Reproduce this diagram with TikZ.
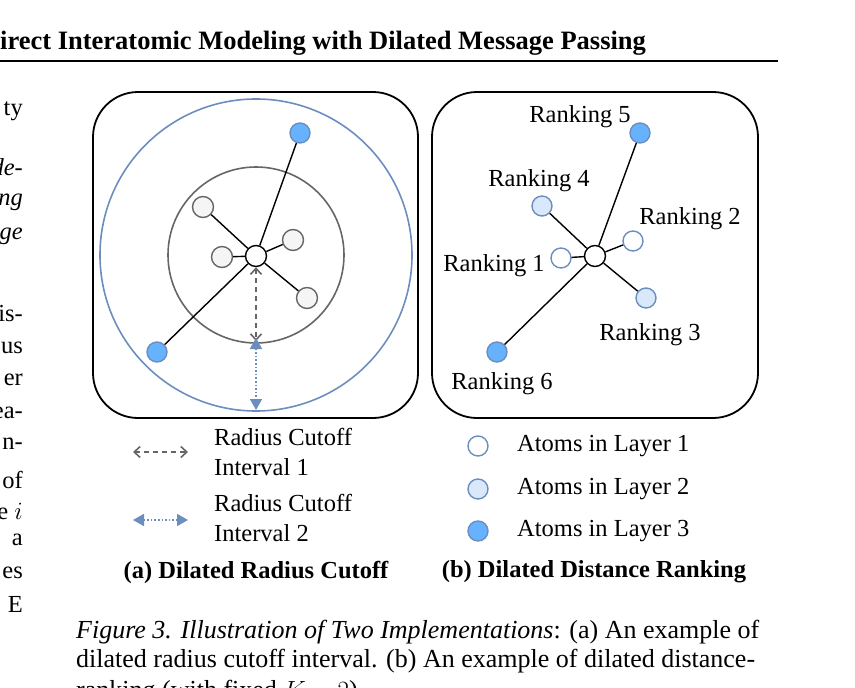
\documentclass[tikz,border=0pt]{standalone}
\usepackage{fontspec}
\setmainfont{Liberation Serif}
\usetikzlibrary{arrows.meta}
\definecolor{edgeblue}{HTML}{6C8EBF}
\definecolor{atomblue}{HTML}{66B2FF}
\definecolor{atomlight}{HTML}{DAE8FC}
\definecolor{atomgray}{HTML}{F5F5F5}
\tikzset{
  atom/.style={circle,draw=edgeblue,line width=1.4pt,minimum size=20pt,inner sep=0pt},
  layerone/.style={atom,fill=white},
  layertwo/.style={atom,fill=atomlight},
  layerthree/.style={atom,fill=atomblue},
  grayatom/.style={circle,draw=black!60,line width=1.4pt,fill=atomgray,minimum size=21pt,inner sep=0pt},
  centre/.style={circle,draw=black,line width=1.4pt,fill=white,minimum size=21pt,inner sep=0pt},
  txt/.style={font=\fontsize{24.5}{26}\selectfont,inner sep=0pt},
  bold/.style={font=\fontsize{24.5}{26}\selectfont\bfseries,inner sep=0pt},
  bond/.style={line width=1.4pt,black},
  gap one/.style={line width=1.6pt,dash pattern=on 5pt off 4pt,black!60,{Straight Barb[length=6pt,width=11pt]}-{Straight Barb[length=6pt,width=11pt]}},
  gap two/.style={line width=1.6pt,dotted,edgeblue,{Triangle[length=11pt,width=12pt]}-{Triangle[length=11pt,width=12pt]}},
}
\begin{document}
\begin{tikzpicture}[x=1pt,y=-1pt]
\clip (0,0) rectangle (855,688);
\useasboundingbox (0,0) rectangle (855,688);
% header
\node[anchor=west,inner sep=0pt,font=\fontsize{26.5}{28}\selectfont\bfseries] (head) at (0,43) {irect Interatomic Modeling with Dilated Message Passing};
\draw[line width=2pt] (0,61) -- (778,61);
% left column fragments
\foreach \y/\t in {111/ty,167/\textit{de-},202/\textit{ng},236/\textit{ge},314/is-,348/us,380/er,413/ea-,444/n-,480/of,511/e $i$,540/a,573/es,604/E}
  \node[txt,anchor=east] at (23,\y) {\t};
% (a) boxes and circles
\draw[line width=1.8pt,rounded corners=45] (93,92) rectangle (418,418);
\draw[line width=1.6pt,edgeblue] (256,255) circle (156);
\draw[line width=1.6pt,black!60] (256,255) circle (88);
\node[centre] (c) at (256,256) {};
\node[grayatom] (g1) at (203,207) {};
\node[grayatom] (g2) at (222,257) {};
\node[grayatom] (g3) at (293,240) {};
\node[grayatom] (g4) at (307,298) {};
\node[layerthree] (b1) at (300,133) {};
\node[layerthree] (b2) at (157,352) {};
\foreach \n in {g1,g2,g3,g4,b1,b2}
  \draw[bond] (c) -- (\n);
\coordinate (r1) at (256,341);
\coordinate (r2) at (256,410);
\draw[gap one] (c) -- (r1);
\draw[gap two] ([yshift=3]r1) -- (r2);
% (b) ranking
\draw[line width=1.8pt,rounded corners=45] (432,92) rectangle (758,418);
\node[centre] (d) at (595,256) {};
\node[layerthree] (k5) at (640,133) {};
\node[layertwo] (k4) at (542,206) {};
\node[layerone] (k2) at (633,241) {};
\node[layerone] (k1) at (561,258) {};
\node[layertwo] (k3) at (646,298) {};
\node[layerthree] (k6) at (497,352) {};
\foreach \n in {k1,k2,k3,k4,k5,k6}
  \draw[bond] (d) -- (\n);
\node[txt] at (580,117) {Ranking 5};
\node[txt] at (539,181) {Ranking 4};
\node[txt] at (690,219) {Ranking 2};
\node[txt] at (494,266) {Ranking 1};
\node[txt] at (650,335) {Ranking 3};
\node[txt] at (502,384) {Ranking 6};
% legends
\coordinate (la1) at (133,452);
\coordinate (la2) at (188,452);
\draw[gap one] (la1) -- (la2);
\coordinate (lb1) at (133,520);
\coordinate (lb2) at (188,520);
\draw[gap two] (lb1) -- (lb2);
\node[txt,anchor=west] at (214,437) {Radius Cutoff};
\node[txt,anchor=west] at (214,467) {Interval 1};
\node[txt,anchor=west] at (214,503) {Radius Cutoff};
\node[txt,anchor=west] at (214,533) {Interval 2};
\node[layerone] (l1) at (478,446) {};
\node[layertwo] (l2) at (478,489) {};
\node[layerthree] (l3) at (478,531) {};
\node[txt,anchor=west] at (517,446) {Atoms in Layer 1};
\node[txt,anchor=west] at (517,489) {Atoms in Layer 2};
\node[txt,anchor=west] at (517,531) {Atoms in Layer 3};
\node[bold] at (256,572) {(a) Dilated Radius Cutoff};
\node[bold] at (594,572) {(b) Dilated Distance Ranking};
% caption
\node[anchor=west,inner sep=0pt,font=\fontsize{26}{28}\selectfont] at (76,632) {\textit{Figure 3. Illustration of Two Implementations}: (a) An example of};
\node[anchor=west,inner sep=0pt,font=\fontsize{26}{28}\selectfont] at (76,661) {dilated radius cutoff interval. (b) An example of dilated distance-};
\node[anchor=west,inner sep=0pt,font=\fontsize{26}{28}\selectfont] at (76,692) {ranking (with fixed $K=2$).};
\end{tikzpicture}
\end{document}
